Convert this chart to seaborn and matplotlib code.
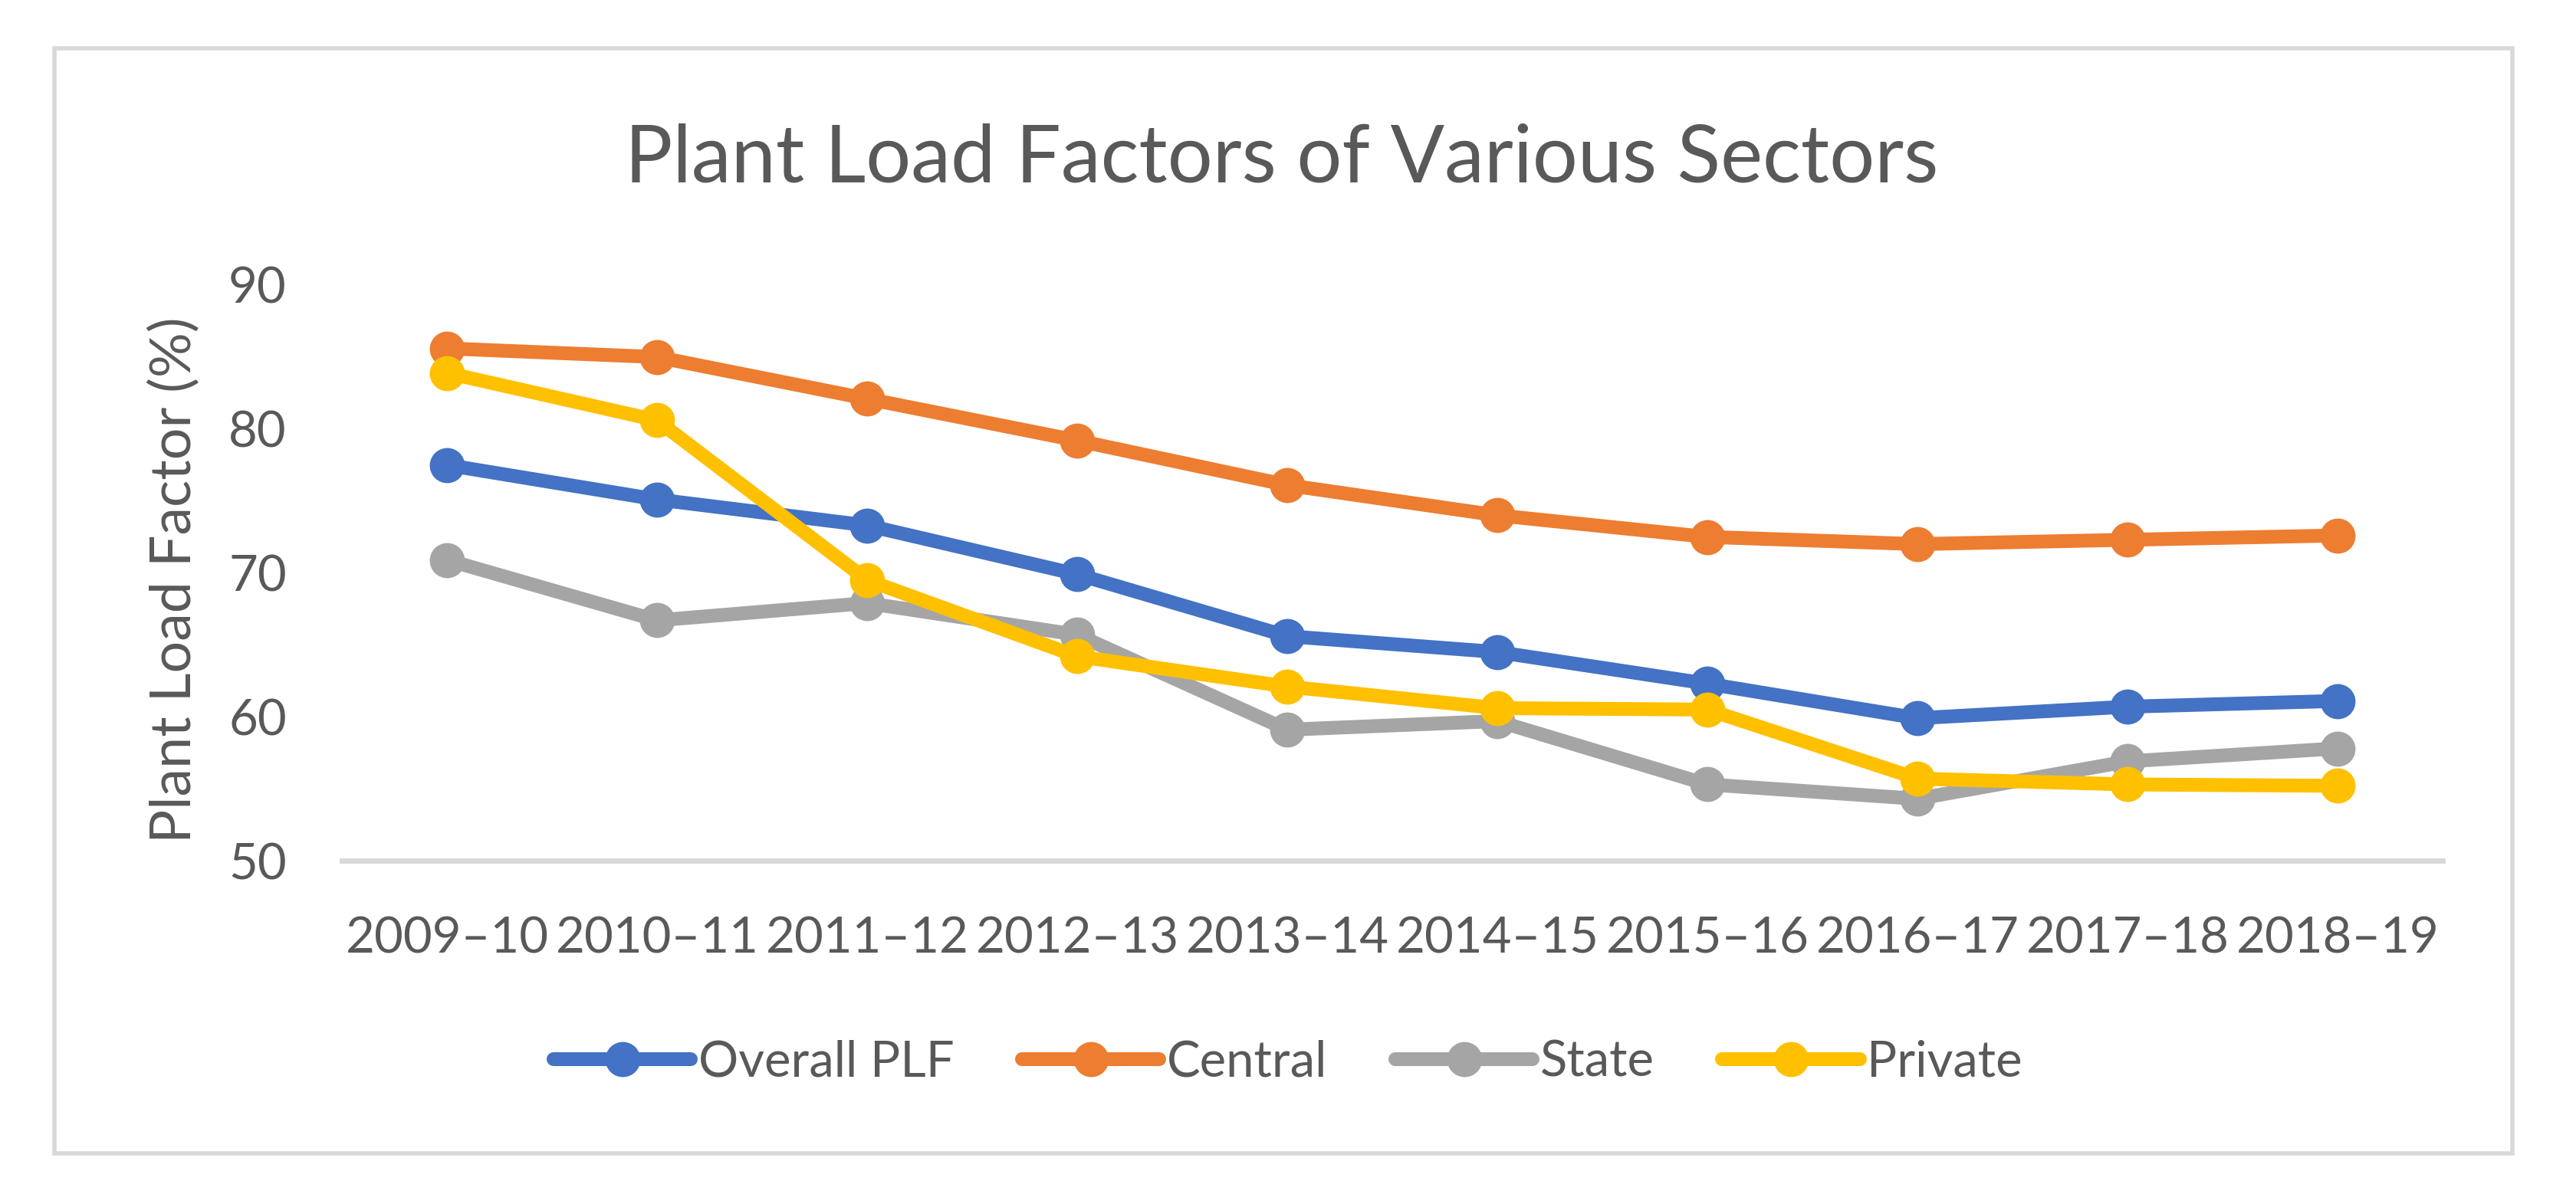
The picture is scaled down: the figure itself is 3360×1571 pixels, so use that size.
import matplotlib
matplotlib.use("Agg")
import matplotlib.pyplot as plt
from matplotlib.lines import Line2D
from matplotlib.patches import Rectangle
import seaborn as sns
import pandas as pd

years = ['2009–10', '2010–11', '2011–12', '2012–13', '2013–14',
         '2014–15', '2015–16', '2016–17', '2017–18', '2018–19']
series_names = ['Overall PLF', 'Central', 'State', 'Private']
overall = [77.5, 75.1, 73.3, 69.9, 65.6, 64.5, 62.3, 59.9, 60.7, 61.1]
central = [85.6, 85.0, 82.1, 79.2, 76.1, 74.0, 72.5, 72.0, 72.3, 72.6]
state = [70.9, 66.7, 67.9, 65.7, 59.1, 59.7, 55.3, 54.3, 56.9, 57.8]
private = [83.9, 80.6, 69.5, 64.2, 62.1, 60.6, 60.5, 55.7, 55.3, 55.2]
y_ticks = [50, 60, 70, 80, 90]

colors = ['#4472C4', '#ED7D31', '#A5A5A5', '#FFC000']
text_color = '#595959'

rows = []
for name, vals in zip(series_names, [overall, central, state, private]):
    for yr, v in zip(years, vals):
        rows.append({'Year': yr, 'Series': name, 'PLF': v})
df = pd.DataFrame(rows)

sns.set_theme(style='white')
plt.rcParams['font.family'] = ['Lato', 'DejaVu Sans']

W, H = 3360, 1571
fig = plt.figure(figsize=(W / 100, H / 100), dpi=100)
ax = fig.add_axes([446 / W, (H - 1123) / H, (3186 - 446) / W, (1123 - 372) / H])

palette = dict(zip(series_names, colors))
sns.lineplot(data=df, x='Year', y='PLF', hue='Series', hue_order=series_names,
             palette=palette, marker='o', markersize=33, markeredgewidth=0,
             linewidth=13, sort=False, ax=ax, legend=False)

ax.set_xlim(-0.5, len(years) - 0.5)
ax.set_ylim(50, 90)
ax.set_yticks(y_ticks)
ax.set_yticklabels([str(t) for t in y_ticks])
ax.set_xlabel('')
ax.set_ylabel('')
for s in ['top', 'right', 'left']:
    ax.spines[s].set_visible(False)
ax.spines['bottom'].set_color('#D9D9D9')
ax.spines['bottom'].set_linewidth(5)
ax.spines['bottom'].set_zorder(0)
ax.tick_params(axis='both', length=0, labelsize=47, colors=text_color, pad=52)
ax.grid(False)

fig.text(1672 / W, (H - 238) / H, 'Plant Load Factors of Various Sectors',
         ha='center', va='baseline', fontsize=75, color=text_color)
fig.text(228 / W, (H - 757) / H, 'Plant Load Factor (%)', rotation=90,
         ha='center', va='center', fontsize=53, color=text_color)

handles = [Line2D([0], [0], color=c, linewidth=13, marker='o', markersize=33,
                  markeredgewidth=0) for c in colors]
fig.legend(handles, series_names, loc='center', bbox_to_anchor=(0.5, (H - 1386) / H),
           ncol=4, frameon=False, fontsize=47, handlelength=2.75,
           handletextpad=0.15, columnspacing=1.35, labelcolor=text_color)

fig.patches.append(Rectangle((71 / W, (H - 1505) / H), (3277 - 71) / W, (1505 - 63) / H,
                             transform=fig.transFigure, fill=False,
                             edgecolor='#D9D9D9', linewidth=4))

fig.savefig('out.png', dpi=100, facecolor='white')
